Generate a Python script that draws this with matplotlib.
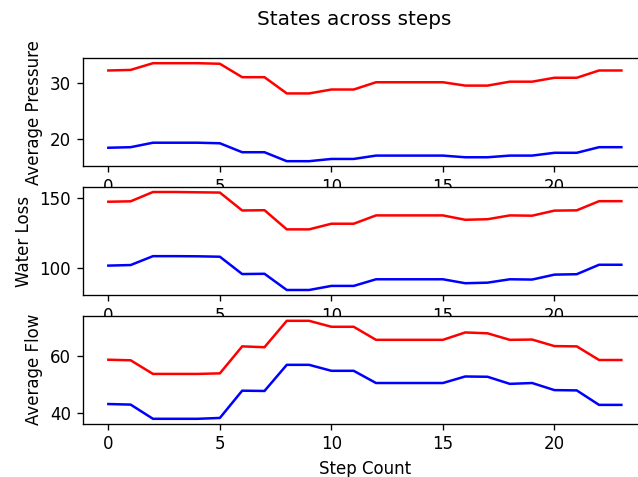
import matplotlib
matplotlib.use("Agg")
import matplotlib.pyplot as plt
import numpy as np

steps = np.arange(24)

pressure_red = [32.3, 32.4, 33.6, 33.6, 33.6, 33.5, 31.1, 31.1, 28.2, 28.2, 28.9, 28.9,
                30.2, 30.2, 30.2, 30.2, 29.6, 29.6, 30.3, 30.3, 31.0, 31.0, 32.3, 32.3]
pressure_blue = [18.5, 18.6, 19.4, 19.4, 19.4, 19.3, 17.7, 17.7, 16.1, 16.1, 16.5, 16.5,
                 17.1, 17.1, 17.1, 17.1, 16.8, 16.8, 17.1, 17.1, 17.6, 17.6, 18.6, 18.6]

loss_red = [147.3, 147.6, 154.2, 154.2, 154.0, 153.8, 141.1, 141.3, 127.7, 127.7, 131.7, 131.7,
            137.6, 137.6, 137.6, 137.6, 134.5, 134.9, 137.6, 137.4, 141.0, 141.2, 147.7, 147.7]
loss_blue = [102.0, 102.4, 108.7, 108.7, 108.6, 108.3, 96.0, 96.2, 84.7, 84.7, 87.6, 87.6,
             92.3, 92.3, 92.3, 92.3, 89.5, 89.9, 92.3, 92.1, 95.6, 95.9, 102.6, 102.6]

flow_red = [58.6, 58.4, 53.6, 53.6, 53.6, 53.8, 63.3, 63.0, 72.3, 72.3, 70.2, 70.2,
            65.6, 65.6, 65.6, 65.6, 68.2, 67.9, 65.6, 65.7, 63.4, 63.3, 58.5, 58.5]
flow_blue = [43.0, 42.8, 37.8, 37.8, 37.8, 38.1, 47.7, 47.6, 56.8, 56.8, 54.7, 54.7,
             50.4, 50.4, 50.4, 50.4, 52.7, 52.6, 50.1, 50.4, 47.9, 47.8, 42.7, 42.7]

labels = ["Average Pressure", "Water Loss", "Average Flow"]

# drawn at 120 dpi so text and ticks come out ~1.2x like the reference
fig, axes = plt.subplots(3, 1, figsize=(638 / 120, 477 / 120), dpi=120)
fig.subplots_adjust(left=82.7 / 638, right=647 / 638, top=1 - 58.3 / 477,
                    bottom=1 - 423.7 / 477, hspace=0.195)

series = [(pressure_red, pressure_blue), (loss_red, loss_blue), (flow_red, flow_blue)]
for ax, (red, blue), lab in zip(axes, series, labels):
    ax.plot(steps, red, color="red")
    ax.plot(steps, blue, color="blue")
    ax.set_ylabel(lab)

axes[-1].set_xlabel("Step Count")
fig.suptitle("States across steps", x=354 / 638)

fig.savefig("out.png", dpi=120)
